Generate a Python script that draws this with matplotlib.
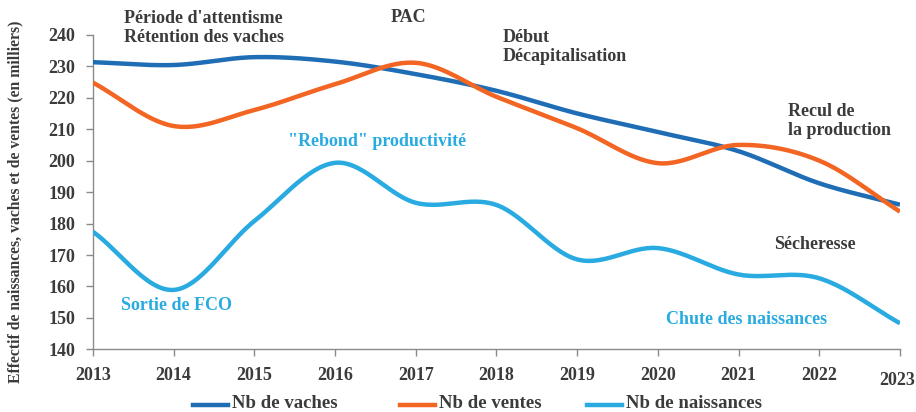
import numpy as np
import matplotlib
matplotlib.use("Agg")
import matplotlib.pyplot as plt
from matplotlib.lines import Line2D
from matplotlib.transforms import ScaledTranslation

years = [2013, 2014, 2015, 2016, 2017, 2018, 2019, 2020, 2021, 2022, 2023]
vaches = [231.3, 230.4, 232.9, 231.5, 227.5, 222.2, 215.0, 209.1, 203.0, 192.8, 186.0]
ventes = [224.8, 211.0, 216.1, 224.3, 231.1, 220.3, 210.3, 199.2, 205.0, 200.0, 183.8]
naissances = [177.4, 158.9, 180.8, 199.3, 186.6, 185.9, 168.6, 172.2, 163.8, 162.6, 148.3]
series_labels = ["Nb de vaches", "Nb de ventes", "Nb de naissances"]
colors = ["#1f6db5", "#f26522", "#29abe2"]

FAM = ["Liberation Serif", "DejaVu Serif"]
FONT = dict(family=FAM, fontweight="bold")
TXT = "#3b3b3b"


def smooth(x, y, n=30):
    # Catmull-Rom smoothing like spreadsheet "smoothed line"
    x = np.asarray(x, float); y = np.asarray(y, float)
    px = np.concatenate([[2 * x[0] - x[1]], x, [2 * x[-1] - x[-2]]])
    py = np.concatenate([[2 * y[0] - y[1]], y, [2 * y[-1] - y[-2]]])
    xs, ys = [], []
    t = np.linspace(0, 1, n, endpoint=False)
    for i in range(1, len(px) - 2):
        for arr, out in ((px, xs), (py, ys)):
            p0, p1, p2, p3 = arr[i - 1], arr[i], arr[i + 1], arr[i + 2]
            out.extend(0.5 * ((2 * p1) + (-p0 + p2) * t
                              + (2 * p0 - 5 * p1 + 4 * p2 - p3) * t ** 2
                              + (-p0 + 3 * p1 - 3 * p2 + p3) * t ** 3))
    xs.append(x[-1]); ys.append(y[-1])
    return np.array(xs), np.array(ys)


fig = plt.figure(figsize=(9.16, 4.12), dpi=100)
ax = fig.add_axes([0.1015, 0.152, 0.881, 0.7635])

for vals, c in zip([vaches, ventes, naissances], colors):
    sx, sy = smooth(years, vals)
    ax.plot(sx, sy, color=c, lw=3.2, solid_capstyle="butt", zorder=3)

ax.set_xlim(2013, 2023)
ax.set_ylim(140, 240)
ax.set_xticks(years)
ax.set_yticks(np.arange(140, 241, 10))
for s in ["top", "right"]:
    ax.spines[s].set_visible(False)
for s in ["left", "bottom"]:
    ax.spines[s].set_color("#8a8a8a")
    ax.spines[s].set_linewidth(1.0)
ax.tick_params(axis="both", colors="#8a8a8a", length=5, width=1.0,
               labelcolor=TXT, labelsize=13)
ax.tick_params(axis="x", pad=8)
ax.tick_params(axis="y", pad=8)
for lab in ax.get_xticklabels() + ax.get_yticklabels():
    lab.set_family(FAM); lab.set_weight("bold")
last = ax.get_xticklabels()[-1]
last.set_transform(last.get_transform() + ScaledTranslation(-0.03, -0.05, fig.dpi_scale_trans))

fig.text(0.017, 0.51, "Effectif de naissances, vaches et de ventes (en milliers)",
         rotation=90, ha="center", va="center", color=TXT, fontsize=11.3, **FONT)

def ftext(x, y, s, color=TXT, size=13, **kw):
    fig.text(x / 916, 1 - y / 412, s, color=color, fontsize=size, ha="left",
             va="center", linespacing=1.2, **FONT, **kw)

ftext(124, 28, "Période d'attentisme\nRétention des vaches")
ftext(391, 18, "PAC")
ftext(503, 47, "Début\nDécapitalisation")
ftext(788, 121, "Recul de\nla production")
ftext(774, 245, "Sécheresse")
ftext(288, 142, "\"Rebond\" productivité", color=colors[2])
ftext(121, 305, "Sortie de FCO", color=colors[2])
ftext(666, 320, "Chute des naissances", color=colors[2])

# legend
leg_items = [(193, series_labels[0]), (400, series_labels[1]), (587, series_labels[2])]
for (lx, lab), c in zip(leg_items, colors):
    fig.add_artist(Line2D([lx / 916, (lx + 35) / 916], [1 - 405 / 412] * 2,
                          color=c, lw=3.2, transform=fig.transFigure))
    ftext(lx + 39, 404, lab, size=13.5)

fig.savefig("out.png", dpi=100)
